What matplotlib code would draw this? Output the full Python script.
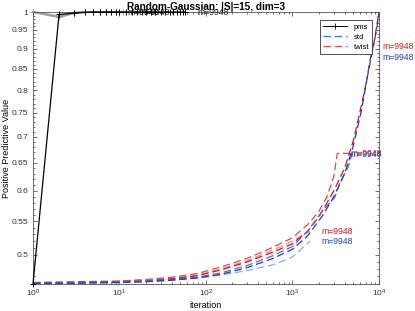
import matplotlib
matplotlib.use("Agg")
import matplotlib.pyplot as plt
from matplotlib.ticker import FixedLocator, MultipleLocator, NullFormatter, FixedFormatter

plt.rcParams['font.family'] = ['Liberation Sans', 'DejaVu Sans']

# ---- data ----
pms_x = [1, 2, 3, 4, 5, 6, 7, 8, 9, 10, 12, 14, 16, 18, 20, 23, 26, 30, 34, 38, 42, 46, 50, 54, 57]
pms_y = [0.46, 0.993, 0.997, 0.999, 1.0, 1.0, 1.0, 1.0, 1.0, 1.0, 1.0, 1.0, 1.0, 1.0, 1.0,
         1.0, 1.0, 1.0, 1.0, 1.0, 1.0, 1.0, 1.0, 1.0, 1.0]
pms_gray1_x = [1, 2, 3, 4, 5, 6, 7, 8, 9]
pms_gray1_y = [1.0, 0.985, 0.997, 1.0, 1.0, 1.0, 1.0, 1.0, 1.0]
pms_gray2_x = [1, 2, 3, 4, 5, 6, 7, 8, 9, 10, 11, 12]
pms_gray2_y = [1.0, 0.988, 0.998, 1.0, 1.0, 1.0, 1.0, 1.0, 1.0, 1.0, 1.0, 1.0]

twistA_x = [1, 3, 10, 20, 40, 80, 150, 300, 600, 1000, 1600]
twistA_y = [0.462, 0.462, 0.463, 0.465, 0.467, 0.472, 0.480, 0.492, 0.507, 0.520, 0.535]
twistB_x = [1, 3, 10, 20, 40, 80, 150, 300, 600, 1000, 1500, 2000, 2500, 3000, 3300, 4500]
twistB_y = [0.462, 0.463, 0.464, 0.466, 0.469, 0.474, 0.483, 0.495, 0.511, 0.525, 0.545,
            0.565, 0.59, 0.625, 0.668, 0.668]
twistC_x = [1, 3, 10, 20, 40, 80, 150, 300, 600, 1000, 1500, 2000, 3000, 4000, 5000, 6000,
            7000, 8600, 10000]
twistC_y = [0.461, 0.462, 0.463, 0.464, 0.467, 0.471, 0.479, 0.490, 0.504, 0.516, 0.535,
            0.556, 0.60, 0.64, 0.69, 0.75, 0.81, 0.905, 1.0]

stdA_x = [1, 3, 10, 20, 40, 80, 150, 300, 600, 1000, 1600]
stdA_y = [0.461, 0.461, 0.462, 0.463, 0.465, 0.468, 0.472, 0.478, 0.486, 0.497, 0.52]
stdB_x = [1, 3, 10, 20, 40, 80, 150, 300, 600, 1000, 1500, 2250, 3080, 3550, 4400, 4900]
stdB_y = [0.461, 0.462, 0.463, 0.464, 0.466, 0.469, 0.475, 0.485, 0.499, 0.512, 0.535,
          0.568, 0.589, 0.615, 0.642, 0.668]
stdC_x = [1, 3, 10, 20, 40, 80, 150, 300, 600, 1000, 1500, 2250, 3000, 4000, 5000, 6300,
          7900, 9400, 10000]
stdC_y = [0.461, 0.461, 0.462, 0.463, 0.465, 0.468, 0.473, 0.482, 0.495, 0.508, 0.528,
          0.56, 0.59, 0.63, 0.68, 0.756, 0.872, 0.95, 1.0]

pms_label_x = [79, 12.5, 16.4]
pms_label_y = [1.0, 1.0, 1.0]
twist_label_x = [2150, 4700, 11100]
twist_label_y = [0.535, 0.668, 0.905]
std_label_x = [2150, 4700, 11100]
std_label_y = [0.52, 0.666, 0.879]
label_text = "m=9948"

yticks = [0.5, 0.55, 0.6, 0.65, 0.7, 0.75, 0.8, 0.85, 0.9, 0.95, 1.0]
ytick_labels = ["0.5", "0.55", "0.6", "0.65", "0.7", "0.75", "0.8", "0.85", "0.9", "0.95", "1"]

# ---- plot ----
fig = plt.figure(figsize=(4.15, 3.11), dpi=100)
ax = fig.add_axes([0.0795, 0.0868, 0.8337, 0.8746])

gray = '#a0a0a0'
ax.plot(pms_gray1_x, pms_gray1_y, color=gray, lw=1.4, marker='+', ms=4, mew=0.7, clip_on=False)
ax.plot(pms_gray2_x, pms_gray2_y, color=gray, lw=1.4, marker='+', ms=4, mew=0.7, clip_on=False)

red_shades = ['#e89090', '#dd4a4a', '#c81818']
blue_shades = ['#90a8e8', '#4a6fd8', '#1a3cc0']
dash = (0, (6, 3))
for (xs, ys), c in zip([(twistA_x, twistA_y), (twistB_x, twistB_y), (twistC_x, twistC_y)], red_shades):
    ax.plot(xs, ys, color=c, lw=0.9, linestyle=dash)
for (xs, ys), c in zip([(stdA_x, stdA_y), (stdB_x, stdB_y), (stdC_x, stdC_y)], blue_shades):
    ax.plot(xs, ys, color=c, lw=0.9, linestyle=dash)

ax.plot(pms_x, pms_y, color='black', lw=0.9, marker='+', ms=4.5, mew=0.7, clip_on=False, zorder=5)

for x, y in zip(pms_label_x, pms_label_y):
    ax.text(x, y, label_text, fontsize=6.2, color='#222222', ha='left', va='center')
for x, y in zip(twist_label_x, twist_label_y):
    ax.text(x, y, label_text, fontsize=6.2, color='#cc2020', ha='left', va='center', clip_on=False)
for x, y in zip(std_label_x, std_label_y):
    ax.text(x, y, label_text, fontsize=6.2, color='#2040c8', ha='left', va='center', clip_on=False)

# legend proxies
h1, = ax.plot([], [], color='black', lw=0.7, marker='+', ms=5, mew=0.6, label='pms')
h2, = ax.plot([], [], color='#4a6fd8', lw=0.9, linestyle=dash, label='std')
h3, = ax.plot([], [], color='#e05050', lw=0.9, linestyle=dash, label='twist')
leg = ax.legend(handles=[h1, h2, h3], loc='upper right', bbox_to_anchor=(0.98, 0.97),
                fontsize=5.5, frameon=True, fancybox=False, framealpha=1,
                edgecolor='#333333', borderpad=0.4, handlelength=3.2, labelspacing=0.35,
                handletextpad=0.8, borderaxespad=0)
leg.get_frame().set_linewidth(0.6)

ax.set_xscale('log')
ax.set_yscale('log')
ax.set_xlim(1, 1e4)
ax.set_ylim(0.46, 1.0)
ax.yaxis.set_major_locator(FixedLocator(yticks))
ax.yaxis.set_major_formatter(FixedFormatter(ytick_labels))
ax.yaxis.set_minor_locator(MultipleLocator(0.01))
ax.yaxis.set_minor_formatter(NullFormatter())

ax.tick_params(which='both', direction='in', top=True, right=True, labelsize=6, colors='#333333')
ax.tick_params(which='major', length=3, width=0.5)
ax.tick_params(which='minor', length=1.6, width=0.5)
ax.tick_params(axis='x', pad=3)
for s in ax.spines.values():
    s.set_linewidth(0.6)
    s.set_color('#555555')

ax.set_title("Random-Gaussian: |S|=15, dim=3", fontsize=7.2, fontweight='bold', pad=1.5)
ax.set_xlabel("iteration", fontsize=6.5, labelpad=1)
ax.set_ylabel("Positive Predictive Value", fontsize=6.5, labelpad=0.5)

fig.savefig("out.png", dpi=100)
